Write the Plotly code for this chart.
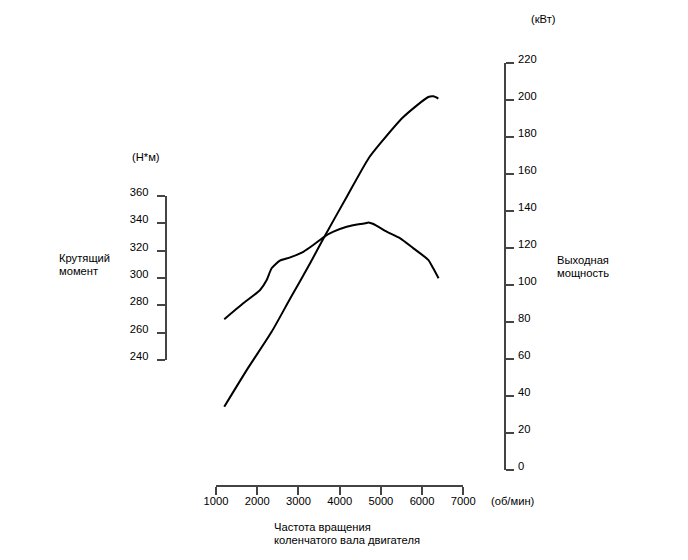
import plotly.graph_objects as go

# ---- data ----
torque_rpm = [1200, 1660, 2070, 2230, 2350, 2550, 2800, 3120, 3360, 3650, 3850,
              4170, 4500, 4620, 4700, 4820, 5140, 5470, 5790, 6150, 6270, 6400]
torque_nm = [269.8, 281.5, 291.2, 298.5, 307.1, 312.7, 315.1, 319.2, 324.1, 330.7, 333.9,
             337.5, 339.5, 340.0, 340.7, 339.5, 333.9, 329.0, 321.7, 313.2, 307.1, 299.8]

power_rpm = [1200, 1745, 2350, 2800, 3280, 3650, 4170, 4700, 4985, 5545, 6150, 6275, 6395]
power_kw = [34.2, 54.0, 74.7, 92.7, 111.6, 126.9, 147.6, 168.4, 176.5, 190.8, 201.6, 202.0, 200.8]

x_ticks = [1000, 2000, 3000, 4000, 5000, 6000, 7000]
torque_ticks = [240, 260, 280, 300, 320, 340, 360]
power_ticks = [0, 20, 40, 60, 80, 100, 120, 140, 160, 180, 200, 220]

OFF = 8  # page body margin
W, H = 688 - OFF, 560 - OFF
FONT = "Liberation Sans, Arial, sans-serif"
FS = 11.2
AXC = "#444444"

def px(x):
    return (x - OFF) / W

def py(y):
    return 1 - (y - OFF) / H

fig = go.Figure()
fig.add_trace(go.Scatter(x=torque_rpm, y=torque_nm, xaxis="x", yaxis="y", mode="lines",
                         line=dict(color="black", width=2, shape="spline", smoothing=0.6),
                         showlegend=False, hoverinfo="skip"))
fig.add_trace(go.Scatter(x=power_rpm, y=power_kw, xaxis="x2", yaxis="y2", mode="lines",
                         line=dict(color="black", width=2, shape="spline", smoothing=0.6),
                         showlegend=False, hoverinfo="skip"))

xdom = [px(216), px(463.3)]
common = dict(showgrid=False, zeroline=False, showline=True, linecolor=AXC, linewidth=1.5,
              ticks="outside", ticklen=8, tickwidth=1.5, tickcolor=AXC, automargin=False,
              tickfont=dict(family=FONT, size=FS, color="black"))

fig.update_layout(
    template="none",
    width=W, height=H,
    margin=dict(l=0, r=0, t=0, b=0, pad=0),
    paper_bgcolor="white", plot_bgcolor="rgba(0,0,0,0)",
    xaxis=dict(domain=xdom, range=[1000, 7000], tickvals=x_ticks,
               anchor="free", position=py(486), ticklabelstandoff=-3, **common),
    xaxis2=dict(domain=xdom, range=[1000, 7000], visible=False, anchor="y2", automargin=False),
    yaxis=dict(domain=[py(360), py(196)], range=[240, 360], tickvals=torque_ticks,
               anchor="free", position=px(165.5), side="left",
               ticklabelshift=-4, ticklabelstandoff=6, **common),
    yaxis2=dict(domain=[py(470), py(63)], range=[0, 220], tickvals=power_ticks,
                anchor="free", position=px(505), side="right",
                ticklabelshift=-4, ticklabelstandoff=2, **common),
)

def label(text, x, y, anchor="left"):
    fig.add_annotation(text=text, x=px(x), y=py(y), xref="paper", yref="paper",
                       xanchor=anchor, yanchor="middle", showarrow=False,
                       font=dict(family=FONT, size=FS, color="black"))

label("(Н*м)", 130, 157)
label("Крутящий", 57, 258)
label("момент", 57, 271)
label("(кВт)", 529, 19)
label("Выходная", 555, 260)
label("мощность", 555, 273)
label("(об/мин)", 489, 501)
label("Частота вращения", 272, 527)
label("коленчатого вала двигателя", 272, 540)

fig.write_html("out.html")
